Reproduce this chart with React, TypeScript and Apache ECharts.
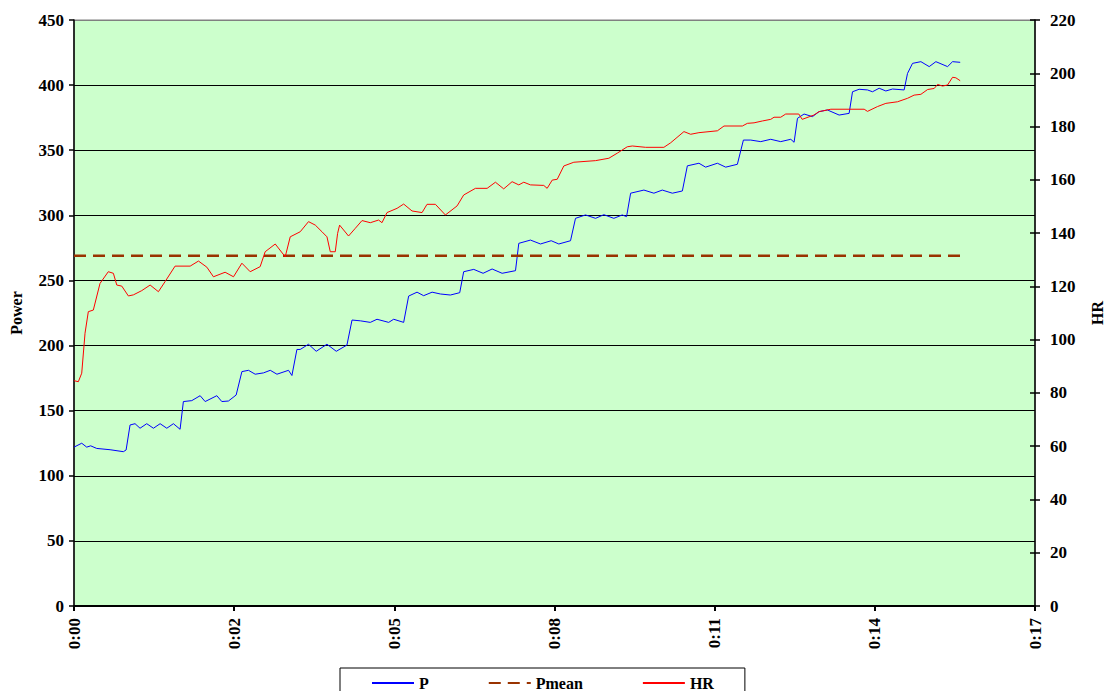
import React, { useEffect, useRef } from "react";
import * as echarts from "echarts";

// Time in seconds, power in W
const pTimes = [0, 8.2, 13.5, 17.7, 24.1, 38.3, 52.4, 55.3, 59.5, 64.8, 70.1, 77.2, 84.3, 91.4, 98.5, 105.5, 112.6, 116.1, 125, 133.9, 139.2, 151.6, 156.9, 163.9, 172.1, 178.2, 185.2, 192.3, 201.1, 208.3, 215.4, 227.7, 231.3, 236.6, 240.1, 248.9, 257.1, 268.5, 278.4, 289.7, 295.1, 303.9, 314.5, 321.6, 334, 339.3, 349.9, 355.2, 364.1, 371.1, 380.1, 388.9, 399.5, 409.4, 413.6, 424.3, 434.2, 443.8, 454.4, 468.6, 472.1, 484.5, 495.1, 506.5, 514.6, 527, 532.3, 542.9, 553.6, 562.4, 573, 581.9, 586.5, 590.8, 604.9, 615.5, 624.4, 635.1, 645.7, 651, 663.3, 670.4, 682.9, 691.7, 704.1, 710.5, 718.3, 728.9, 739.5, 750.1, 760.8, 764.3, 767.9, 774.9, 783.8, 790.8, 799.7, 812.1, 822.7, 826.3, 833.3, 842.2, 847.5, 854.6, 861.7, 868.8, 881.1, 884.7, 890, 898.9, 907.7, 914.8, 927.2, 932.5, 940.6];
const pValues = [122, 125, 122, 123, 121, 120, 118.5, 119.8, 139, 140, 136.5, 140, 136.5, 140, 136.5, 140, 135.7, 157, 157.7, 161.5, 157, 161.5, 157, 157.4, 162, 180, 181, 178, 179, 181, 178, 181, 177, 197, 197, 201, 195.6, 201, 195.6, 200.4, 219.6, 219, 217.8, 220.2, 217.8, 220.2, 217.8, 238, 241, 238.3, 241, 239.6, 238.8, 240.6, 256.7, 258.5, 255.5, 258.8, 255.5, 257.5, 278.5, 281, 278, 280.5, 278, 280.5, 297.7, 300.3, 297.7, 300.5, 297.7, 300.3, 299, 317, 319.4, 317, 319.4, 317, 318.7, 338, 340, 337, 340, 337, 339.2, 357.8, 357.8, 356.6, 358.4, 356.6, 358.4, 356.1, 374.5, 377.8, 375.8, 379.6, 380.9, 377, 378.3, 394.9, 396.8, 396.3, 394.9, 397.6, 395.5, 397, 396.3, 409, 416.7, 418, 414.2, 418, 414.2, 418, 417.5];

// Time in seconds, heart rate in bpm
const hrTimes = [0, 4.6, 8.2, 11.7, 15.2, 20.5, 27.6, 36.4, 41.8, 45.4, 50.7, 57.7, 63, 71.9, 80.8, 89.6, 96.7, 107.3, 123.3, 132.1, 141, 148, 160.4, 169.3, 178.2, 187, 197.6, 202.9, 213.6, 224.2, 229.5, 240.1, 248.9, 256.1, 263.2, 268.5, 272, 277.3, 279.8, 281.9, 291.4, 298.6, 305.7, 314.5, 323.3, 326.9, 332.2, 342.9, 349.9, 358.8, 369.4, 374.7, 383.6, 394.2, 406.6, 413.6, 426.1, 438.5, 447.3, 456.1, 465, 472.1, 477.4, 484.5, 498.6, 502.2, 507.6, 512.9, 519.9, 530.5, 553.6, 567.7, 576.6, 587.2, 592.6, 606.7, 626.1, 633.3, 647.4, 654.5, 663.3, 682.9, 689.9, 709.4, 714.7, 721.8, 730.8, 739.5, 743, 750.1, 755.4, 769.3, 772.9, 785.2, 790.8, 803.3, 838.7, 842.2, 852.8, 861.7, 874.1, 884.7, 891.7, 898.9, 906, 913, 916.6, 921.9, 927.2, 932.5, 936, 940.6];
const hrValues = [84.6, 84.2, 87.4, 102.4, 110.5, 111.1, 121.1, 125.5, 124.9, 120.5, 120.1, 116.4, 116.8, 118.4, 120.5, 118, 121.8, 127.6, 127.6, 129.5, 127.2, 123.6, 125.3, 123.6, 128.7, 125.5, 127.4, 133, 135.9, 131.1, 138.6, 140.5, 144.3, 143, 140.5, 138.6, 133, 133, 139.9, 143, 138.9, 141.8, 144.7, 143.9, 144.9, 143.9, 147.7, 149.3, 150.9, 148.3, 147.7, 150.8, 150.8, 146.8, 150.2, 154.3, 156.8, 156.8, 159.1, 156.6, 159.3, 158.1, 159.1, 158.1, 157.9, 156.8, 159.9, 160.2, 165.2, 166.6, 167.2, 168.1, 170, 172.4, 172.7, 172.2, 172.2, 173.9, 178.1, 177.1, 177.7, 178.4, 180.2, 180.2, 181.2, 181.4, 182.1, 182.7, 183.5, 183.5, 184.7, 184.7, 182.7, 184.3, 185.6, 186.5, 186.5, 185.7, 187.5, 188.7, 189.3, 190.6, 191.8, 192.1, 193.9, 194.3, 195.8, 195.2, 195.6, 198.5, 198.3, 197.2];

const pMean = 269;
const pMeanTimes = [0, 940.6];

const xTickLabels = ["0:00", "0:02", "0:05", "0:08", "0:11", "0:14", "0:17"];
const X_INTERVAL = 170;

const FONT = "'Liberation Serif', 'Times New Roman', serif";

export default function App() {
  const ref = useRef<HTMLDivElement>(null);
  useEffect(() => {
    if (!ref.current) return;
    const chart = echarts.init(ref.current, undefined, { renderer: "svg" });
    const labelStyle = { fontFamily: FONT, fontWeight: "bold" as const, fontSize: 17, color: "#000" };
    const gridColors = ["#000", "#000", "#000", "#000", "#000", "#000", "#000", "#000", "#000", "#808080"];
    chart.setOption({
      animation: false,
      backgroundColor: "#fff",
      grid: {
        left: 74,
        right: 69,
        top: 20,
        bottom: 85,
        outerBoundsMode: "none",
        containLabel: false,
        show: true,
        backgroundColor: "#CCFFCC",
        borderColor: "#808080",
        borderWidth: 1,
      },
      legend: {
        left: 340,
        top: 668,
        padding: [7, 31, 12, 31],
        borderColor: "#000",
        borderWidth: 1,
        backgroundColor: "#fff",
        itemWidth: 42,
        itemHeight: 12,
        itemGap: 59,
        itemStyle: { opacity: 0 },
        textStyle: { fontFamily: FONT, fontWeight: "bold", fontSize: 16, color: "#000" },
        data: ["P", "Pmean", "HR"],
      },
      xAxis: {
        type: "value",
        min: 0,
        max: 1020,
        interval: X_INTERVAL,
        axisLine: { show: true, lineStyle: { color: "#000", width: 2 } },
        axisTick: { show: true, length: 5, lineStyle: { color: "#000", width: 2 } },
        splitLine: { show: false },
        axisLabel: {
          ...labelStyle,
          rotate: 90,
          margin: 12,
          formatter: (v: number) => xTickLabels[Math.round(v / X_INTERVAL)] ?? "",
        },
      },
      yAxis: [
        {
          type: "value",
          min: 0,
          max: 450,
          interval: 50,
          name: "Power",
          nameLocation: "middle",
          nameGap: 50,
          nameRotate: 90,
          nameTextStyle: { fontFamily: FONT, fontWeight: "bold", fontSize: 16, color: "#000" },
          axisLine: { show: true, lineStyle: { color: "#000", width: 1.5 } },
          axisTick: { show: true, length: 5, lineStyle: { color: "#000", width: 1.5 } },
          splitLine: { show: true, lineStyle: { color: gridColors, width: 1 } },
          axisLabel: { ...labelStyle, margin: 10 },
        },
        {
          type: "value",
          min: 0,
          max: 220,
          interval: 20,
          position: "right",
          name: "HR",
          nameLocation: "middle",
          nameGap: 54,
          nameRotate: 90,
          nameTextStyle: { fontFamily: FONT, fontWeight: "bold", fontSize: 16, color: "#000" },
          axisLine: { show: true, lineStyle: { color: "#000", width: 1.5 } },
          axisTick: { show: true, length: 5, lineStyle: { color: "#000", width: 1.5 } },
          splitLine: { show: false },
          axisLabel: { ...labelStyle, margin: 15 },
        },
        {
          type: "value",
          min: 0,
          max: 220,
          interval: 20,
          position: "right",
          axisLine: { show: false },
          axisTick: { show: true, inside: true, length: 5, lineStyle: { color: "#000", width: 1.5 } },
          splitLine: { show: false },
          axisLabel: { show: false },
        },
      ],
      series: [
        {
          name: "P",
          type: "line",
          yAxisIndex: 0,
          symbol: "none",
          data: pTimes.map((t, i) => [t, pValues[i]]),
          lineStyle: { color: "#0000FF", width: 1 },
          itemStyle: { color: "#0000FF" },
        },
        {
          name: "Pmean",
          type: "line",
          yAxisIndex: 0,
          symbol: "none",
          data: pMeanTimes.map((t) => [t, pMean]),
          lineStyle: { color: "#993300", width: 2.5, type: [12, 7] },
          itemStyle: { color: "#993300" },
        },
        {
          name: "HR",
          type: "line",
          yAxisIndex: 1,
          symbol: "none",
          data: hrTimes.map((t, i) => [t, hrValues[i]]),
          lineStyle: { color: "#FF0000", width: 1 },
          itemStyle: { color: "#FF0000" },
        },
      ],
    });
    return () => chart.dispose();
  }, []);
  return (
    <div
      ref={ref}
      style={{ position: "fixed", left: 0, top: 0, width: 1104, height: 691 }}
    />
  );
}
